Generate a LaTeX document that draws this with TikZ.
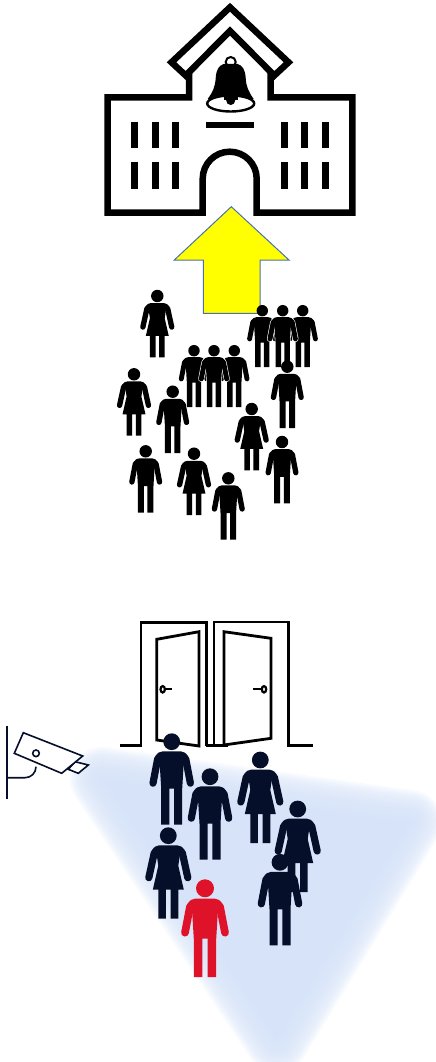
\documentclass[tikz,border=0pt]{standalone}
\usetikzlibrary{calc}
\definecolor{crowdNavy}{HTML}{050F29}
\definecolor{alarmRed}{HTML}{DE1329}
\definecolor{viewBlue}{HTML}{D6E3F8}
\definecolor{arrowYellow}{HTML}{FFFF00}
\definecolor{arrowEdge}{HTML}{4A70B0}
\tikzset{
  x=1pt, y=-1pt,
  school/.style={line width=6.5pt, draw=black, miter limit=10},
  pane/.style={fill=black},
  doorline/.style={line width=2.8pt, draw=black},
  camline/.style={line width=1.6pt, draw=crowdNavy},
  viewblur/.style={draw=viewBlue, opacity=0.17, line join=round},
}
\newcommand{\manbody}{(-10.5,83) -- (-10.5,47) -- (-12,22) -- (-16,14) .. controls (-14,11) and (-12,10) .. (-9,9.6) -- (9,9.6) .. controls (12,10) and (14,11) .. (16,14) -- (12,22) -- (10.5,47) -- (10.5,83) -- (2.4,83) -- (2.4,47) -- (-2.4,47) -- (-2.4,83) -- cycle}
\newcommand{\womanbody}{(-10,83) -- (-10,54) -- (-15.5,54) -- (-10,30) -- (-11.5,20) -- (-16,14) .. controls (-14,11) and (-12,10) .. (-9,9.6) -- (9,9.6) .. controls (12,10) and (14,11) .. (16,14) -- (11.5,20) -- (10,30) -- (15.5,54) -- (10,54) -- (10,83) -- (2.4,83) -- (2.4,54) -- (-2.4,54) -- (-2.4,83) -- cycle}
% x, y of the head, scale, colour
\newcommand{\manfig}[4]{%
  \begin{scope}[shift={(#1,#2)},scale=#3]
    \fill[#4] (0,0) circle (8.4);
    \fill[#4] \manbody;
    \draw[#4,line width=7.2pt*#3,line cap=round] (-14,17) -- (-18.7,41.5) (14,17) -- (18.7,41.5);
  \end{scope}}
\newcommand{\womanfig}[4]{%
  \begin{scope}[shift={(#1,#2)},scale=#3]
    \fill[#4] (0,0) circle (8.4);
    \fill[#4] \womanbody;
    \draw[#4,line width=7.2pt*#3,line cap=round] (-14,17) -- (-19.5,42) (14,17) -- (19.5,42);
  \end{scope}}
% white rim under the middle man of a group
\newcommand{\manrim}[3]{%
  \begin{scope}[shift={(#1,#2)},scale=#3]
    \draw[white,line width=1.2pt] \manbody;
    \draw[white,line width=9pt*#3,line cap=round] (-14,17) -- (-18.7,41.5) (14,17) -- (18.7,41.5);
  \end{scope}}

\begin{document}
\begin{tikzpicture}
  \useasboundingbox (0,0) rectangle (436,1062);

  % ---- Camera view -------------------------------------------------------
  \begin{scope}
    \clip (0,0) rectangle (436,1062);
    \foreach \w in {64,60,...,4} {
      \draw[viewblur,line width=\w pt] (102,779) -- (410,822) -- (277,1040) -- cycle;
    }
    \fill[viewBlue] (102,779) -- (410,822) -- (277,1040) -- cycle;
  \end{scope}

  % ---- School ------------------------------------------------------------
  \draw[school] (189,70) -- (189,97.3) -- (107.7,97.3) -- (107.7,212.7) -- (202.7,212.7)
    -- (202.7,178.7) arc (180:360:27) -- (256.7,212.7) -- (352.3,212.7)
    -- (352.3,97.3) -- (270.7,97.3) -- (270.7,70);
  \draw[school,fill=white] (230,7.3) -- (288.5,62.3) -- (274.3,75.5) -- (230,31)
    -- (185.7,75.5) -- (171.5,62.3) -- cycle;

  % windows
  \foreach \wx in {131.3,151.7,172,281,301.3,321.7} {
    \fill[pane] (\wx,121.7) rectangle ++(7,26.6);
    \fill[pane] (\wx,162.3) rectangle ++(7,26.9);
  }
  \fill[pane] (206,121.7) rectangle (253.7,128);

  % bell
  \begin{scope}[shift={(230.7,0)}]
    \draw[line width=2pt] (0,62) circle (5);
    \fill (-7,64) .. controls (-12,65.5) and (-14.5,70) .. (-15,78)
      .. controls (-15.5,87) and (-18,92) .. (-23,99) -- (23,99)
      .. controls (18,92) and (15.5,87) .. (15,78)
      .. controls (14.5,70) and (12,65.5) .. (7,64) -- cycle;
    \draw[line width=2.4pt,fill=white] (0,103.5) ellipse (23.5 and 8);
    \fill (-7,96) rectangle (7,100);
    \fill (0,100.5) circle (4.5);
  \end{scope}

  % ---- Arrow -------------------------------------------------------------
  \draw[fill=arrowYellow,draw=arrowEdge,line width=1pt] (231.3,206.7) -- (289,260) -- (260,260)
    -- (260,313.3) -- (203.3,313.3) -- (203.3,260) -- (174.3,260) -- cycle;

  % ---- Crowd -------------------------------------------------------------
  \womanfig{157.3}{296}{.74}{black}
  \manfig{262.3}{310.7}{.68}{black}
  \manfig{302.7}{310.7}{.68}{black}
  \manrim{282.7}{310.7}{.68}
  \manfig{282.7}{310.7}{.68}{black}
  \manfig{194}{350.7}{.68}{black}
  \manfig{234.3}{350.7}{.68}{black}
  \manrim{214}{350.7}{.68}
  \manfig{214}{350.7}{.68}{black}
  \womanfig{134}{374.3}{.74}{black}
  \manfig{172.7}{391.7}{.74}{black}
  \manfig{287.3}{366.7}{.74}{black}
  \womanfig{251.7}{409}{.74}{black}
  \manfig{282}{442}{.74}{black}
  \manfig{145.7}{451.3}{.74}{black}
  \womanfig{194}{453.7}{.74}{black}
  \manfig{228.3}{478.3}{.74}{black}

  % ---- Doors -------------------------------------------------------------
  \draw[doorline] (120,745.7) -- (141,745.7) -- (141,622.7) -- (206.7,622.7) -- (206.7,745.7);
  \draw[doorline] (312.7,745.7) -- (288.3,745.7) -- (288.3,622) -- (214,622) -- (214,745.7);
  \draw[doorline] (205.7,745.7) -- (228,745.7);
  \draw[doorline] (156.7,639.3) -- (199,631.7) -- (199,746) -- (156.7,740) -- cycle;
  \draw[doorline] (224,631.7) -- (271,638.3) -- (271,738.3) -- (224,745) -- cycle;
  \draw[line width=2.2pt] (162.7,689.3) ellipse (2.2 and 3.2);
  \draw[line width=2.2pt] (165,689.3) -- (172.3,689.3);
  \draw[line width=2.2pt] (264,689.3) ellipse (2.2 and 3.2);
  \draw[line width=2.2pt] (261.7,689.3) -- (253.3,689.3);

  % ---- Camera ------------------------------------------------------------
  \draw[camline,line width=1.8pt] (7.3,725.7) -- (7.3,799);
  \draw[camline] (7.3,777.7) -- (25,777.7) .. controls (31,777.7) and (36,773) .. (36,766.7);
  \draw[camline,fill=white] (75,761.7) -- (88.3,765) -- (78.3,773.3) -- (68.3,769.3) -- cycle;
  \draw[camline,fill=white] (23.3,732.7) -- (82.7,756) -- (61.7,773.3) -- (14.3,753.3) -- cycle;
  \draw[camline] (36,753.3) circle (3.3);

  % ---- People in view ----------------------------------------------------
  \manfig{171.7}{741.7}{1}{crowdNavy}
  \manfig{210}{776.7}{1}{crowdNavy}
  \womanfig{260.3}{760}{1}{crowdNavy}
  \womanfig{297.7}{809}{1}{crowdNavy}
  \womanfig{168.3}{835.7}{1}{crowdNavy}
  \manfig{280}{862.3}{1}{crowdNavy}
  \manfig{205}{888.3}{1.07}{alarmRed}
\end{tikzpicture}
\end{document}
